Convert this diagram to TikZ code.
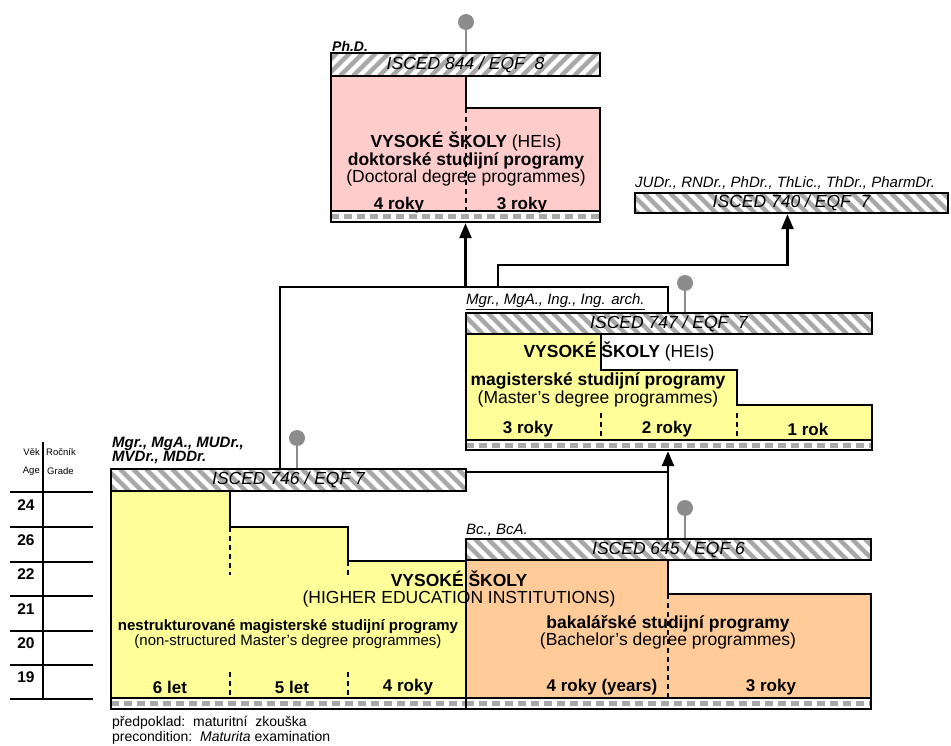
\documentclass[tikz,border=0pt]{standalone}
\usepackage{fontspec}
\setmainfont{Liberation Sans}
\usetikzlibrary{arrows.meta}
\definecolor{pinkD}{HTML}{FFCCCC}
\definecolor{yelM}{HTML}{FFFF99}
\definecolor{oraB}{HTML}{FFCC99}
\definecolor{hatchgray}{HTML}{A8A8A8}
\definecolor{pingray}{HTML}{8C8C8C}
\newcommand\fsz[2]{\fontsize{#1}{#2}\selectfont}
\begin{document}
\begin{tikzpicture}[x=1pt,y=-1pt,
  outl/.style={draw=black,line width=2.4pt,line join=miter},
  hatchfwd/.style={outl,fill=white,inner sep=0pt,font=\fsz{17.5}{17.5}\itshape,
    path picture={\foreach \k in {0,...,36}{\draw[hatchgray,line width=4.5pt]
      ([xshift={\k*13pt-30pt}]path picture bounding box.south west) -- ++(30pt,30pt);}}},
  hatchback/.style={outl,fill=white,inner sep=0pt,font=\fsz{17.5}{17.5}\itshape,
    path picture={\foreach \k in {0,...,36}{\draw[hatchgray,line width=4.5pt]
      ([xshift={\k*13pt-30pt}]path picture bounding box.north west) -- ++(30pt,-30pt);}}},
  botbar/.style={outl,fill=white,inner sep=0pt,
    path picture={\draw[hatchgray,line width=5pt,dash pattern=on 8pt off 5pt]
      (path picture bounding box.west) -- (path picture bounding box.east);}},
  pinball/.style={circle,fill=pingray,minimum size=16pt,inner sep=0pt},
  stem/.style={pingray,line width=2pt},
  conn/.style={line width=2.4pt},
  arr/.style={-{Triangle[width=12pt,length=15pt]}},
  divd/.style={line width=1.2pt,dash pattern=on 5pt off 4pt},
  axis/.style={line width=2.4pt},
  big/.style={inner sep=0pt,font=\fsz{17.5}{15.5},align=center},
  dur/.style={inner sep=0pt,font=\fsz{17}{17}\bfseries},
  deg/.style={inner sep=0pt,anchor=west,font=\fsz{15}{15}\itshape},
  agenum/.style={inner sep=0pt,font=\fsz{15.5}{15.5}\bfseries},
  agehd/.style={inner sep=0pt,font=\fsz{9.5}{9.5}},
]
\useasboundingbox (0,0) rectangle (951,746);

% ---------- bodies ----------
\draw[outl,fill=pinkD] (331,76) -- (466,76) -- (466,108) -- (600,108) -- (600,211) -- (331,211) -- cycle;
\draw[outl,fill=yelM] (466,334) -- (601,334) -- (601,370) -- (737,370) -- (737,405) -- (872,405) -- (872,440) -- (466,440) -- cycle;
\draw[outl,fill=yelM] (111,491) -- (230,491) -- (230,527) -- (348,527) -- (348,561) -- (466,561) -- (466,698) -- (111,698) -- cycle;
\draw[outl,fill=oraB] (466,560) -- (668,560) -- (668,594) -- (871,594) -- (871,698) -- (466,698) -- cycle;

% ---------- dividers ----------
\draw[divd] (466,108) -- (466,211);
\draw[divd] (601,413) -- (601,440);
\draw[divd] (737,413) -- (737,440);
\draw[divd] (230,527) -- (230,575);
\draw[divd] (230,672) -- (230,698);
\draw[divd] (348,561) -- (348,577);
\draw[divd] (348,672) -- (348,698);
\draw[divd] (668,594) -- (668,698);

% ---------- header bars ----------
\node[hatchfwd,minimum width=269pt,minimum height=23pt] (hdrD) at (465.5,64.5) {ISCED 844 / EQF\ \ 8};
\node[hatchback,minimum width=313pt,minimum height=20pt] (hdrJ) at (791.5,203) {ISCED 740 / EQF\ \ 7};
\node[hatchback,minimum width=406pt,minimum height=21pt] (hdrM) at (669,323.5) {ISCED 747 / EQF\ \ 7};
\node[hatchback,minimum width=355pt,minimum height=22pt] (hdrL) at (288.5,480) {ISCED 746 / EQF 7};
\node[hatchback,minimum width=405pt,minimum height=21pt] (hdrB) at (668.5,549.5) {ISCED 645 / EQF 6};

% ---------- bottom bars ----------
\node[botbar,minimum width=269pt,minimum height=11pt] (botD) at (465.5,216.5) {};
\node[botbar,minimum width=406pt,minimum height=10pt] (botM) at (669,445) {};
\node[botbar,minimum width=355pt,minimum height=11pt] (botL) at (288.5,703.5) {};
\node[botbar,minimum width=405pt,minimum height=11pt] (botB) at (668.5,703.5) {};

% ---------- pins ----------
\node[pinball] (pinD) at (466,22) {};
\draw[stem] (pinD) -- (pinD |- hdrD.north);
\node[pinball] (pinM) at (685,283) {};
\draw[stem] (pinM) -- (pinM |- hdrM.north);
\node[pinball] (pinL) at (297,438) {};
\draw[stem] (pinL) -- (pinL |- hdrL.north);
\node[pinball] (pinB) at (685,508) {};
\draw[stem] (pinB) -- (pinB |- hdrB.north);

% ---------- connectors ----------
\coordinate (cA) at (280,287);
\coordinate (cB) at (668,287);
\coordinate (cE) at (498,287);
\coordinate (cF) at (498,265);
\coordinate (cG) at (668,472);
\draw[conn] (hdrL.north -| cA) -- (cA) -- (cB) -- (hdrM.north -| cB);
\draw[conn,arr] (botD.south |- cA) -- (botD.south);
\draw[conn,arr] (cE) -- (cF) -| ([xshift=-4pt]hdrJ.south);
\draw[conn] (hdrL.north east |- cG) -- (cG);
\draw[conn,arr] (hdrB.north -| cG) -- (botM.south -| cG);

% ---------- age axis ----------
\draw[axis] (43,442) -- (43,699);
\foreach \yy in {492,527,562,596,631,665,699}{\draw[axis] (10,\yy) -- (93,\yy);}
\node[agehd,anchor=east] (hVek) at (40,452) {Věk};
\node[agehd,anchor=east] (hAge) at (40,471) {Age};
\node[agehd,anchor=west] (hRoc) at (46,452) {Ročník};
\node[agehd,anchor=west] (hGra) at (47,471) {Grade};
\node[agenum] (a1) at (26,505) {24};
\node[agenum] (a2) at (26,540) {26};
\node[agenum] (a3) at (26,574) {22};
\node[agenum] (a4) at (26,609) {21};
\node[agenum] (a5) at (26,643) {20};
\node[agenum] (a6) at (26,677) {19};

% ---------- degree labels ----------
\node[deg,font=\fsz{14}{14}\bfseries\itshape] (lPhD) at (332,46) {Ph.D.};
\node[deg] (lJU) at (635,183) {JUDr., RNDr., PhDr., ThLic., ThDr., PharmDr.};
\node[deg] (lMgr) at (466,302) {\underline{Mgr., MgA., Ing., Ing. arch.}};
\node[deg,font=\fsz{15}{13}\bfseries\itshape,align=left,anchor=north west] (lMUDr) at (112,437) {Mgr., MgA., MUDr.,\\MVDr., MDDr.};
\node[deg] (lBc) at (466,530) {Bc., BcA.};

% ---------- doctoral texts ----------
\node[big] (tD) at (466,159) {\textbf{VYSOKÉ ŠKOLY} (HEIs)\\\textbf{doktorské studijní programy}\\(Doctoral degree programmes)};
\node[dur] (dD1) at (399,205) {4 roky};
\node[dur] (dD2) at (522,205) {3 roky};

% ---------- master texts ----------
\node[big] (tM1) at (619,351) {\textbf{VYSOKÉ ŠKOLY} (HEIs)};
\node[big] (tM2) at (598,390) {\textbf{magisterské studijní programy}\\(Master’s degree programmes)};
\node[dur] (dM1) at (528,429) {3 roky};
\node[dur] (dM2) at (667,429) {2 roky};
\node[dur] (dM3) at (808,429) {1 rok};

% ---------- left block texts ----------
\node[big,font=\fsz{17.5}{16.5}] (tHEI) at (459,589) {\textbf{VYSOKÉ ŠKOLY}\\(HIGHER EDUCATION INSTITUTIONS)};
\node[big,font=\fsz{15}{14}] (tL) at (288,634) {\textbf{nestrukturované magisterské studijní programy}\\(non-structured Master’s degree programmes)};
\node[dur] (dL1) at (170,687) {6 let};
\node[dur] (dL2) at (292,687) {5 let};
\node[dur] (dL3) at (408,687) {4 roky};

% ---------- bachelor texts ----------
\node[big] (tB) at (668,632) {\textbf{bakalářské studijní programy}\\(Bachelor’s degree programmes)};
\node[dur] (dB1) at (602,687) {4 roky (years)};
\node[dur] (dB2) at (771,687) {3 roky};

% ---------- precondition ----------
\node[inner sep=0pt,anchor=north west,align=left,font=\fsz{14}{15}] (pre) at (112,716) {předpoklad:\ \ maturitní\ \ zkouška\\precondition:\ \ \textit{Maturita} examination};
\end{tikzpicture}
\end{document}
